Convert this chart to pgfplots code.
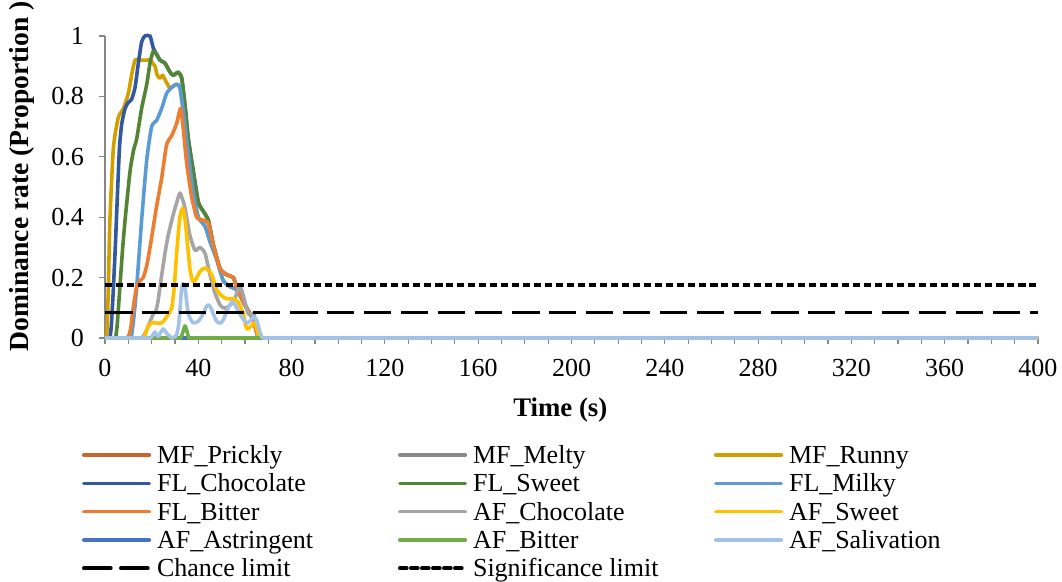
\documentclass[border=0pt]{standalone}
\usepackage{fontspec}
\setmainfont{Liberation Serif}
\usepackage{pgfplots}
\pgfplotsset{compat=1.18}

\definecolor{cPrickly}{RGB}{199,101,43}
\definecolor{cMelty}{RGB}{137,137,137}
\definecolor{cRunny}{RGB}{209,160,0}
\definecolor{cFLChoc}{RGB}{50,88,160}
\definecolor{cFLSweet}{RGB}{84,132,53}
\definecolor{cFLMilky}{RGB}{91,155,213}
\definecolor{cFLBitter}{RGB}{237,125,49}
\definecolor{cAFChoc}{RGB}{165,165,165}
\definecolor{cAFSweet}{RGB}{255,192,0}
\definecolor{cAFAstr}{RGB}{68,114,196}
\definecolor{cAFBitter}{RGB}{112,173,71}
\definecolor{cAFSaliv}{RGB}{163,194,230}
\definecolor{axisgray}{RGB}{134,134,134}

% legend text: fixed width
\newcommand{\lent}[1]{\makebox[120.5pt][l]{\rule[-4.25pt]{0pt}{14.15pt}#1}}

\begin{document}
\begin{tikzpicture}
\begin{axis}[
  at={(52.5pt,122pt)}, anchor=south west,
  scale only axis, width=466.5pt, height=151pt,
  xmin=0, xmax=400, ymin=0, ymax=1,
  clip=false,
  axis x line*=bottom, axis y line*=left,
  axis line style={axisgray, line width=0.6pt, -},
  xtick={0,40,...,400}, minor xtick={0,10,...,400},
  ytick={0,0.2,0.4,0.6,0.8,1},
  yticklabels={0,0.2,0.4,0.6,0.8,1},
  tick align=outside, major tick length=3pt, minor tick length=3pt,
  tick style={axisgray, line width=0.6pt},
  /pgf/number format/assume math mode=true,
  tick label style={font=\fontsize{13}{15}\selectfont, text=black},
  xticklabel style={yshift=-4pt},
  yticklabel style={xshift=-4pt},
  xlabel={\textbf{Time (s)}},
  ylabel={\textbf{Dominance rate (Proportion )}},
  xlabel style={font=\fontsize{13.4}{16}\selectfont, at={(axis description cs:0.488,-0.238)}, anchor=center},
  ylabel style={font=\fontsize{13.8}{16}\selectfont, at={(axis description cs:-0.089,0.536)}, anchor=center},
  legend columns=3,
  legend cell align=left,
  legend style={at={(axis description cs:-0.0246,-0.35)}, anchor=north west,
    draw=none, fill=none, inner sep=0pt, outer sep=0pt,
    font=\fontsize{13}{14.15}\selectfont,
    row sep=2.75pt, column sep=0pt,
    nodes={inner sep=0pt},
    /tikz/every odd column/.append style={column sep=3pt}},
  legend image code/.code={\draw[#1, line cap=round] (0.9pt,0pt) -- (33.6pt,0pt);},
  every axis plot/.append style={line width=1.8pt, smooth, tension=0.35, line join=round, no markers},
]
% MF_Prickly
\addplot[cPrickly] coordinates {(0,0) (400,0)};
\addlegendentry{\lent{MF\_Prickly}}
% MF_Melty
\addplot[cMelty] coordinates {(0,0) (400,0)};
\addlegendentry{\lent{MF\_Melty}}
% MF_Runny
\addplot[cRunny] coordinates {(0,0) (0.4,0) (0.8,0.02) (1.2,0.1) (1.6,0.22) (2.1,0.39) (3.6,0.63) (5.7,0.73) (7.9,0.76) (10,0.81) (11.4,0.87) (12.9,0.92) (15.4,0.92) (17.9,0.92) (19.3,0.92) (21.4,0.90) (22.4,0.87) (23.6,0.86) (24.7,0.87) (26.1,0.85) (27.6,0.83) (28.6,0.83) (30.7,0.84) (32.1,0.83) (33.6,0.75) (35.7,0.61) (37.9,0.48) (40,0.40) (42.9,0.37) (45,0.32) (47.9,0.26) (50.7,0.19) (53.6,0.17) (56.4,0.16) (59.3,0.12) (61.4,0.09) (63.6,0.06) (65,0.02) (66,0) (68,0) (70,0) (74,0) (86,0) (120,0) (220,0) (400,0)};
\addlegendentry{\lent{MF\_Runny}}
% FL_Chocolate
\addplot[cFLChoc] coordinates {(0,0) (1.5,0) (2.1,0) (2.7,0.04) (3.5,0.15) (4.3,0.28) (5.2,0.45) (6.2,0.63) (7.2,0.71) (8.6,0.76) (10,0.78) (11.4,0.79) (12.9,0.83) (14.3,0.91) (15.7,0.98) (17.1,1.0) (19.3,1.0) (20.7,0.96) (22.1,0.94) (23.6,0.92) (25.7,0.91) (27.9,0.88) (29.3,0.87) (31.4,0.88) (32.9,0.86) (34.3,0.77) (35.7,0.66) (37.9,0.55) (40,0.45) (42.1,0.42) (44.3,0.39) (46.4,0.31) (49.3,0.23) (52.1,0.21) (55,0.20) (56.4,0.17) (59.3,0.12) (61.4,0.09) (63.6,0.06) (65,0.02) (66,0) (68,0) (70,0) (74,0) (86,0) (120,0) (220,0) (400,0)};
\addlegendentry{\lent{FL\_Chocolate}}
% FL_Sweet
\addplot[cFLSweet] coordinates {(0,0) (3.5,0) (4.5,0) (5.2,0.04) (6.4,0.17) (7.5,0.29) (8.6,0.39) (10.7,0.55) (12.2,0.62) (13.6,0.66) (15.7,0.76) (17.9,0.84) (19.3,0.91) (20.7,0.95) (22.1,0.94) (23.6,0.92) (25.7,0.91) (27.9,0.88) (29.3,0.87) (31.4,0.88) (32.9,0.86) (34.3,0.77) (35.7,0.66) (37.9,0.55) (40,0.45) (42.1,0.42) (44.3,0.39) (46.4,0.31) (49.3,0.23) (52.1,0.21) (55,0.20) (56.4,0.17) (59.3,0.12) (61.4,0.09) (63.6,0.06) (65,0.02) (66,0) (68,0) (70,0) (74,0) (86,0) (120,0) (220,0) (400,0)};
\addlegendentry{\lent{FL\_Sweet}}
% FL_Milky
\addplot[cFLMilky] coordinates {(0,0) (9,0) (10.5,0) (11.4,0.01) (12.4,0.07) (13.6,0.17) (15.7,0.39) (17.9,0.59) (20,0.70) (22.1,0.72) (24.3,0.76) (26.4,0.81) (28.6,0.83) (30.7,0.84) (32.1,0.83) (33.6,0.75) (35.7,0.61) (37.9,0.48) (40,0.40) (42.9,0.37) (45,0.32) (47.9,0.26) (50.7,0.19) (53.6,0.17) (56.4,0.16) (59.3,0.12) (61.4,0.09) (63.6,0.06) (65,0.02) (66,0) (68,0) (70,0) (74,0) (86,0) (120,0) (220,0) (400,0)};
\addlegendentry{\lent{FL\_Milky}}
% FL_Bitter
\addplot[cFLBitter] coordinates {(0,0) (8,0) (9.3,0) (10,0.005) (11,0.03) (12.1,0.10) (13.6,0.17) (15,0.19) (16.4,0.20) (17.9,0.24) (19.3,0.30) (22,0.43) (24.3,0.53) (26.4,0.64) (28.6,0.67) (30.7,0.71) (32.4,0.76) (33.6,0.69) (35,0.58) (37.1,0.47) (39.3,0.40) (42.1,0.39) (44.3,0.38) (46.4,0.31) (49.3,0.23) (52.1,0.21) (55,0.20) (56.4,0.17) (59.3,0.12) (61.4,0.09) (63.6,0.07) (65,0.02) (66,0) (68,0) (70,0) (74,0) (86,0) (120,0) (220,0) (400,0)};
\addlegendentry{\lent{FL\_Bitter}}
% AF_Chocolate
\addplot[cAFChoc] coordinates {(0,0) (14,0) (15.5,0) (16.4,0.005) (17.5,0.02) (18.6,0.04) (20.7,0.08) (21.8,0.09) (22.7,0.12) (23.6,0.17) (25.7,0.28) (27.1,0.34) (29.3,0.41) (30.8,0.45) (32.1,0.48) (33.2,0.46) (34.3,0.43) (36.4,0.34) (38.6,0.29) (40.7,0.30) (42.9,0.28) (45,0.21) (47.1,0.15) (49.3,0.11) (50.7,0.10) (52.1,0.10) (55,0.12) (57.9,0.17) (60,0.12) (61.4,0.08) (63.6,0.08) (65,0.05) (66.4,0.005) (67.5,0) (69,0) (71,0) (75,0) (87,0) (120,0) (220,0) (400,0)};
\addlegendentry{\lent{AF\_Chocolate}}
% AF_Sweet
\addplot[cAFSweet] coordinates {(0,0) (15,0) (16.3,0) (17,0.005) (17.8,0.025) (18.6,0.04) (20,0.05) (21.4,0.05) (24.3,0.05) (26.4,0.07) (28.6,0.10) (29.7,0.17) (30.7,0.28) (32.1,0.40) (33.3,0.43) (34.2,0.40) (35,0.34) (36.4,0.23) (37.5,0.19) (38.6,0.19) (40.7,0.22) (42.2,0.23) (43.6,0.23) (45.7,0.21) (47.9,0.16) (50,0.14) (52.1,0.13) (55,0.13) (57,0.12) (59.3,0.08) (60.7,0.03) (62,0.035) (62.9,0.04) (64.3,0.05) (65.7,0.01) (66.5,0) (68,0) (70,0) (74,0) (86,0) (120,0) (220,0) (400,0)};
\addlegendentry{\lent{AF\_Sweet}}
% AF_Astringent
\addplot[cAFAstr] coordinates {(0,0) (400,0)};
\addlegendentry{\lent{AF\_Astringent}}
% AF_Bitter
\addplot[cAFBitter] coordinates {(0,0) (20,0) (28,0) (31,0) (32.5,0) (33.4,0.02) (34.3,0.04) (35.2,0.02) (36,0) (37.5,0) (40,0) (46,0) (60,0) (100,0) (200,0) (400,0)};
\addlegendentry{\lent{AF\_Bitter}}
% AF_Salivation
\addplot[cAFSaliv] coordinates {(0,0) (12,0) (16,0) (18,0) (19.5,0) (20.5,0.01) (21.4,0.02) (22.2,0.01) (22.9,0.005) (24,0.02) (25,0.03) (26,0.02) (27.1,0.01) (28.6,0) (29.7,0.003) (30.7,0.01) (31.5,0.04) (32.1,0.09) (32.7,0.15) (33.3,0.18) (34.3,0.17) (35,0.12) (35.7,0.08) (36.8,0.06) (37.9,0.05) (40,0.055) (42.1,0.08) (43.2,0.10) (44.3,0.11) (45.4,0.10) (46.4,0.08) (47.5,0.06) (48.6,0.05) (49.6,0.05) (50.7,0.06) (51.8,0.08) (52.9,0.10) (54.3,0.12) (55.4,0.115) (56.4,0.10) (58.6,0.07) (60,0.055) (61.4,0.05) (62.5,0.06) (63.6,0.07) (65,0.06) (66.4,0.02) (67.3,0.003) (67.9,0) (69,0) (71,0) (75,0) (87,0) (120,0) (220,0) (400,0)};
\addlegendentry{\lent{AF\_Salivation}}
% chance and significance limits
\addplot[black, dash pattern=on 13.5pt off 5pt] coordinates {(0,0.084) (400,0.084)};
\addlegendentry{\lent{Chance limit}}
\addplot[black, dash pattern=on 3.5pt off 2pt] coordinates {(0,0.176) (400,0.176)};
\addlegendentry{\lent{Significance limit}}
\end{axis}
\pgfresetboundingbox
\path (0,0) rectangle (531pt,291pt);
\end{tikzpicture}
\end{document}
